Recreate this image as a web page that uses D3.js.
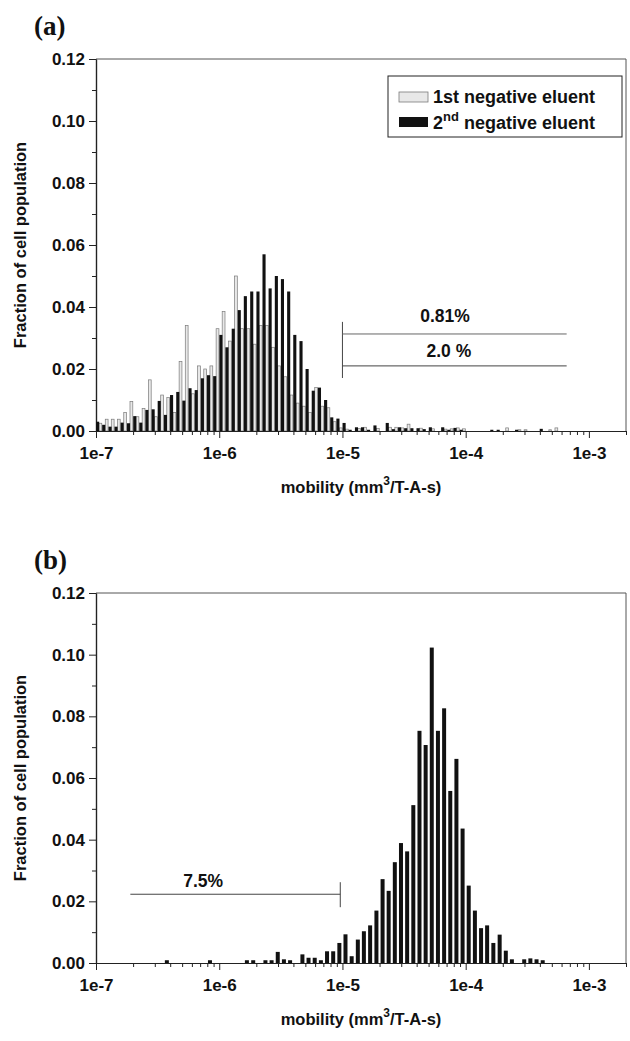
<!DOCTYPE html>
<html><head><meta charset="utf-8">
<script src="https://cdn.jsdelivr.net/npm/d3@7"></script>
<style>body{margin:0;background:#fff}svg{display:block}</style>
</head><body><svg id="c" width="630" height="1041"></svg>
<script>
// ---- categories: logarithmic bins, 20 per decade ----
const binMantissas = [1.00,1.12,1.26,1.41,1.58,1.78,2.00,2.24,2.51,2.82,3.16,3.55,3.98,4.47,5.01,5.62,6.31,7.08,7.94,8.91];
const binDecades = [1e-7,1e-6,1e-5,1e-4];
const binEdges = binDecades.flatMap(d => binMantissas.map(m => m*d)).concat([1e-3]);

// ---- panel (a) series (fraction of cell population per bin, bin 0 = 1e-7) ----
const firstEluent = [0,0.0025,0.0038,0.0038,0.0038,0.006,0.0095,0.0046,0.0073,0.0165,
  0.0046,0.0116,0.0108,0.006,0.0224,0.034,0.012,0.021,0.020,0.021,
  0.033,0.0385,0.029,0.050,0.033,0.033,0.028,0.034,0.034,0.027,
  0.021,0.0175,0.0116,0.009,0.008,0.006,0.014,0.008,0.0075,0.003,
  0.001,0.0006,0,0.0008,0.0012,0,0.0008,0,0.0012,0.0012,
  0.001,0.0022,0,0.0009,0,0.0007,0,0.0006,0.0007,0.001,
  0.0007,0,0,0,0,0,0,0.001,0,0.0004,
  0.0004,0,0,0,0.0004,0.001];
const secondEluent = [0.003,0.002,0.0014,0.0014,0.0027,0.0025,0.0048,0.0027,0.0068,0.007,
  0.0097,0.0052,0.0116,0.0126,0.0098,0.0138,0.0132,0.017,0.018,0.0177,
  0.031,0.027,0.033,0.039,0.0435,0.045,0.045,0.057,0.046,0.050,
  0.049,0.045,0.031,0.029,0.020,0.013,0.014,0.010,0.0044,0.004,
  0.0026,0.0004,0.0012,0.0012,0.0004,0.0018,0,0.0026,0.0006,0.0012,
  0.0009,0.0009,0.0009,0.0006,0.0012,0,0.0012,0.0004,0.001,0.0004,
  0,0,0,0,0.0004,0.0004,0,0,0.0004,0,
  0,0,0.0007,0,0,0];

// ---- panel (b) series ----
const panelBValues = [0,0,0,0,0,0,0,0,0,0,
  0,0.0009,0,0,0,0,0,0,0.0009,0,
  0,0,0,0,0.0009,0.0009,0,0.0009,0.0009,0.0036,
  0.0012,0.0009,0,0.0028,0.0017,0.0017,0.0009,0.0038,0.0038,0.0065,
  0.0093,0.0022,0.0076,0.0103,0.0122,0.017,0.0272,0.0234,0.0327,0.0389,
  0.0362,0.0512,0.0753,0.0707,0.1023,0.0753,0.0826,0.0558,0.0662,0.0436,
  0.0251,0.017,0.0113,0.0122,0.0065,0.0092,0.004,0.0012,0,0.0012,
  0.0015,0.0012,0.0009];

// ---- ticks ----
const xTickValues = [1e-7,1e-6,1e-5,1e-4,1e-3];
const xTickLabels = ["1e-7","1e-6","1e-5","1e-4","1e-3"];
const yTickValues = [0,0.02,0.04,0.06,0.08,0.10,0.12];
const yTickLabels = ["0.00","0.02","0.04","0.06","0.08","0.10","0.12"];
const yMinorValues = [0.01,0.03,0.05,0.07,0.09,0.11];
const legendLabels = ["1st negative eluent","2nd negative eluent"];

const FONT = "'Liberation Sans', Arial, Helvetica, sans-serif";
const svg = d3.select("#c");
svg.append("rect").attr("width",630).attr("height",1041).attr("fill","#fff");

const L = 96, R = 626;
const x = d3.scaleLog().domain([1e-7, 2e-3]).range([L, R]);
const xMinor = [];
binDecades.concat([1e-3]).forEach(d => [2,3,4,5,6,7,8,9].forEach(k => { if (k*d <= 2e-3) xMinor.push(k*d); }));

function panel(top, bottom, tag, id) {
  const y = d3.scaleLinear().domain([0, 0.12]).range([bottom, top]);
  const g = svg.append("g");
  g.append("defs").append("clipPath").attr("id","clip"+id)
    .append("rect").attr("x",L).attr("y",top).attr("width",R-L).attr("height",bottom-top);
  g.append("line").attr("x1",L).attr("x2",R).attr("y1",top).attr("y2",top).attr("stroke","#555").attr("stroke-width",1);
  g.append("line").attr("x1",R).attr("x2",R).attr("y1",top).attr("y2",bottom).attr("stroke","#555").attr("stroke-width",1);
  g.append("g").attr("transform",`translate(${L},0)`)
    .call(d3.axisLeft(y).tickValues(yTickValues).tickFormat((d,i)=>yTickLabels[i]).tickSize(7).tickSizeOuter(0).tickPadding(4));
  g.append("g").attr("transform",`translate(${L},0)`)
    .call(d3.axisLeft(y).tickValues(yMinorValues).tickFormat("").tickSize(4).tickSizeOuter(0));
  g.append("g").attr("transform",`translate(0,${bottom})`)
    .call(d3.axisBottom(x).tickValues(xTickValues).tickFormat((d,i)=>xTickLabels[i]).tickSize(7).tickSizeOuter(0).tickPadding(9));
  g.append("g").attr("transform",`translate(0,${bottom})`)
    .call(d3.axisBottom(x).tickValues(xMinor).tickFormat("").tickSize(4).tickSizeOuter(0));
  g.selectAll(".domain").attr("stroke","#222").attr("stroke-width",1.2);
  g.selectAll(".tick line").attr("stroke","#222");
  g.selectAll(".tick text").attr("font-family",FONT).attr("font-weight","bold").attr("font-size",17).attr("fill","#111");
  g.append("text").attr("x",34).attr("y",top-24).text(tag)
    .attr("font-family","'Liberation Serif','Times New Roman',serif").attr("font-weight","bold").attr("font-size",27).attr("fill","#111");
  g.append("text").attr("transform",`translate(26,${(top+bottom)/2}) rotate(-90)`).attr("text-anchor","middle")
    .attr("font-family",FONT).attr("font-weight","bold").attr("font-size",16.5).attr("fill","#111")
    .text("Fraction of cell population");
  const xt = g.append("text").attr("x",(L+R)/2).attr("y",bottom+62).attr("text-anchor","middle")
    .attr("font-family",FONT).attr("font-weight","bold").attr("font-size",16.5).attr("fill","#111");
  xt.append("tspan").text("mobility (mm");
  xt.append("tspan").attr("dy",-8).attr("font-size",12).text("3");
  xt.append("tspan").attr("dy",8).text("/T-A-s)");
  const plot = g.append("g").attr("clip-path",`url(#clip${id})`);
  return {g, y, plot};
}

// ---- panel (a) ----
const A = panel(59, 431, "(a)", "a");
A.plot.selectAll("rect.l").data(firstEluent).join("rect").attr("class","l")
  .attr("x",(d,i)=>x(binEdges[i])-3.1).attr("width",2.8)
  .attr("y",d=>A.y(d)).attr("height",d=>A.y(0)-A.y(d))
  .attr("fill","#e8e8e8").attr("stroke","#7a7a7a").attr("stroke-width",0.7)
  .attr("display",d=>d>0?null:"none");
A.plot.selectAll("rect.d").data(secondEluent).join("rect").attr("class","d")
  .attr("x",(d,i)=>x(binEdges[i])+0.1).attr("width",3.1)
  .attr("y",d=>A.y(d)).attr("height",d=>A.y(0)-A.y(d))
  .attr("fill","#111").attr("display",d=>d>0?null:"none");

const brA = A.g.append("g").attr("stroke","#444").attr("stroke-width",1);
brA.append("line").attr("x1",x(1e-5)).attr("x2",x(1e-5)).attr("y1",A.y(0.0352)).attr("y2",A.y(0.0171));
brA.append("line").attr("x1",x(1e-5)).attr("x2",x(6.6e-4)).attr("y1",A.y(0.0313)).attr("y2",A.y(0.0313)).attr("stroke","#666");
brA.append("line").attr("x1",x(1e-5)).attr("x2",x(6.6e-4)).attr("y1",A.y(0.0210)).attr("y2",A.y(0.0210));
A.g.append("text").attr("x",x(6.8e-5)).attr("y",A.y(0.0352)).attr("text-anchor","middle").text("0.81%")
  .attr("font-family",FONT).attr("font-weight","bold").attr("font-size",17.5).attr("fill","#111");
A.g.append("text").attr("x",x(7.3e-5)).attr("y",A.y(0.0239)).attr("text-anchor","middle").text("2.0 %")
  .attr("font-family",FONT).attr("font-weight","bold").attr("font-size",17.5).attr("fill","#111");

const lg = A.g.append("g");
lg.append("rect").attr("x",388).attr("y",76).attr("width",234).attr("height",61).attr("fill","#fff").attr("stroke","#222").attr("stroke-width",1);
lg.append("rect").attr("x",399).attr("y",92).attr("width",29).attr("height",10).attr("fill","#e8e8e8").attr("stroke","#7a7a7a").attr("stroke-width",0.8);
lg.append("rect").attr("x",399).attr("y",117).attr("width",29).attr("height",10).attr("fill","#111");
lg.append("text").attr("x",433).attr("y",103).text(legendLabels[0])
  .attr("font-family",FONT).attr("font-weight","bold").attr("font-size",18).attr("fill","#111");
const l2 = lg.append("text").attr("x",433).attr("y",129)
  .attr("font-family",FONT).attr("font-weight","bold").attr("font-size",18).attr("fill","#111");
l2.append("tspan").text("2");
l2.append("tspan").attr("dy",-8).attr("font-size",13).text("nd");
l2.append("tspan").attr("dy",8).text(" negative eluent");

// ---- panel (b) ----
const B = panel(593, 963, "(b)", "b");
B.plot.selectAll("rect.b").data(panelBValues).join("rect").attr("class","b")
  .attr("x",(d,i)=>(x(binEdges[i])+x(binEdges[i+1]))/2-2).attr("width",4)
  .attr("y",d=>B.y(d)).attr("height",d=>B.y(0)-B.y(d))
  .attr("fill","#111").attr("display",d=>d>0?null:"none");
const brB = B.g.append("g").attr("stroke","#444").attr("stroke-width",1);
brB.append("line").attr("x1",x(9.6e-6)).attr("x2",x(9.6e-6)).attr("y1",B.y(0.0262)).attr("y2",B.y(0.0181));
brB.append("line").attr("x1",x(1.9e-7)).attr("x2",x(9.6e-6)).attr("y1",B.y(0.0223)).attr("y2",B.y(0.0223));
B.g.append("text").attr("x",x(7.4e-7)).attr("y",B.y(0.0223)-7).attr("text-anchor","middle").text("7.5%")
  .attr("font-family",FONT).attr("font-weight","bold").attr("font-size",17.5).attr("fill","#111");
</script></body></html>
